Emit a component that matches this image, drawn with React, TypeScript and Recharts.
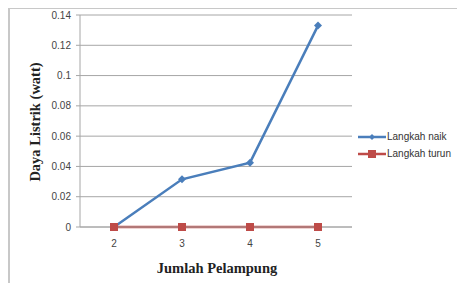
import { LineChart, Line, XAxis, YAxis, CartesianGrid } from 'recharts'

const categories = ['2', '3', '4', '5']
const langkahNaik = [0, 0.0315, 0.0425, 0.133]
const langkahTurun = [0, 0, 0, 0]
const yTicks = [0, 0.02, 0.04, 0.06, 0.08, 0.1, 0.12, 0.14]

const BLUE = '#4A7EBB'
const RED = '#BE4B48'

const data = categories.map((c, i) => ({
  jumlah: c,
  naik: langkahNaik[i],
  turun: langkahTurun[i],
}))

const Diamond = (props: any) => {
  const { cx, cy } = props
  if (cx == null || cy == null) return null
  const r = 4
  return <polygon points={`${cx},${cy - r} ${cx + r},${cy} ${cx},${cy + r} ${cx - r},${cy}`} fill={BLUE} />
}

const Square = (props: any) => {
  const { cx, cy } = props
  if (cx == null || cy == null) return null
  return <rect x={cx - 4} y={cy - 4} width={8} height={8} fill={RED} />
}

// legend drawn outside the chart so it doesn't eat plot space
const LegendBox = () => (
  <div style={{ position: 'absolute', left: 348, top: 119, fontFamily: '"Liberation Sans", Arial, sans-serif', fontSize: 10, color: '#333' }}>
    {[
      { label: 'Langkah naik', color: BLUE, mark: 'diamond' },
      { label: 'Langkah turun', color: RED, mark: 'square' },
    ].map(item => (
      <div key={item.label} style={{ display: 'flex', alignItems: 'center', height: 17 }}>
        <svg width={28} height={10} style={{ marginRight: 1 }}>
          <line x1={0} y1={5} x2={28} y2={5} stroke={item.color} strokeWidth={2.5} />
          {item.mark === 'diamond'
            ? <polygon points="14,2 17,5 14,8 11,5" fill={item.color} />
            : <rect x={10} y={1} width={8} height={8} fill={item.color} />}
        </svg>
        <span>{item.label}</span>
      </div>
    ))}
  </div>
)

const titleStyle = { fontFamily: '"Liberation Serif", "Times New Roman", serif', fontWeight: 'bold', fontSize: 14.5, fill: '#222' }

export default function App() {
  return (
    <div style={{ position: 'relative', width: 457, height: 276, marginTop: -1, borderLeft: '2px solid #c8c8c8', borderTop: '2px solid #c8c8c8', boxSizing: 'border-box' }}>
      <LineChart width={455} height={274} data={data} margin={{ top: 6, right: 113, left: 0, bottom: 26 }}>
        <CartesianGrid vertical={false} stroke="#a6a6a6" />
        <XAxis
          dataKey="jumlah"
          padding={{ left: 34, right: 34 }}
          tick={{ fontSize: 10, fill: '#444', fontFamily: '"Liberation Sans", Arial, sans-serif' }}
          tickLine={false}
          axisLine={{ stroke: '#a6a6a6' }}
          tickMargin={7}
        />
        <YAxis
          domain={[0, 0.14]}
          ticks={yTicks}
          width={70}
          tick={{ fontSize: 10, fill: '#444', fontFamily: '"Liberation Sans", Arial, sans-serif' }}
          tickLine={{ stroke: '#a6a6a6' }}
          tickSize={4}
          tickMargin={5}
          axisLine={{ stroke: '#a6a6a6' }}
        />
        <Line type="linear" dataKey="naik" stroke={BLUE} strokeWidth={2.5} dot={<Diamond />} activeDot={false} isAnimationActive={false} />
        <Line type="linear" dataKey="turun" stroke={RED} strokeWidth={2.5} dot={<Square />} activeDot={false} isAnimationActive={false} />
        <text x={27} y={113} transform="rotate(-90 27 113)" textAnchor="middle" dominantBaseline="middle" style={titleStyle}>
          Daya Listrik (watt)
        </text>
        <text x={207} y={261} textAnchor="middle" dominantBaseline="middle" style={titleStyle}>
          Jumlah Pelampung
        </text>
      </LineChart>
      <LegendBox />
    </div>
  )
}
